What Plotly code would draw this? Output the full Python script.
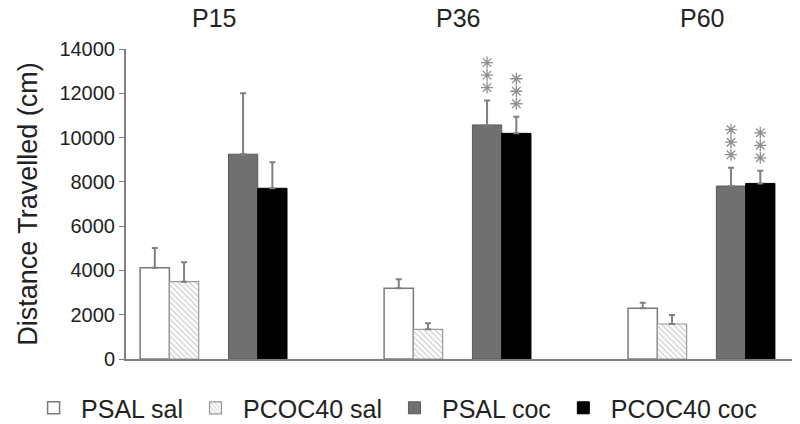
import plotly.graph_objects as go

groups = ["P15", "P36", "P60"]
series = ["PSAL sal", "PCOC40 sal", "PSAL coc", "PCOC40 coc"]
means = {
    "PSAL sal":   [4120, 3190, 2290],
    "PCOC40 sal": [3490, 1340, 1580],
    "PSAL coc":   [9250, 10570, 7810],
    "PCOC40 coc": [7710, 10190, 7930],
}
errors = {
    "PSAL sal":   [890, 410, 250],
    "PCOC40 sal": [880, 270, 410],
    "PSAL coc":   [2750, 1100, 830],
    "PCOC40 coc": [1170, 750, 570],
}
# number of significance asterisks above each bar
significance = {
    "PSAL coc":   [0, 3, 3],
    "PCOC40 coc": [0, 3, 3],
}
y_ticks = [0, 2000, 4000, 6000, 8000, 10000, 12000, 14000]

FONT = "Liberation Sans, Arial, sans-serif"
W, H = 800, 424
M = dict(l=126, r=8, t=49, b=65, autoexpand=False)
Y_RANGE = [0, 14000]
X_RANGE = [-0.36, 2.37]
BAR_W = 0.12
offsets = {"PSAL sal": -0.302, "PCOC40 sal": -0.182, "PSAL coc": 0.060, "PCOC40 coc": 0.180}
styles = {
    "PSAL sal": dict(color="white", line=dict(color="#7a7a7a", width=1.5)),
    "PCOC40 sal": dict(color="white", line=dict(color="#9a9a9a", width=1.2),
                       pattern=dict(shape="\\", fgcolor="#9a9a9a", bgcolor="white", size=4, solidity=0.3)),
    "PSAL coc": dict(color="#707070", line=dict(color="#5a5a5a", width=1)),
    "PCOC40 coc": dict(color="#000000", line=dict(color="#000000", width=1)),
}
x_idx = list(range(len(groups)))

fig = go.Figure()
for s in series:
    fig.add_trace(go.Bar(
        x=x_idx, y=means[s], name=s,
        width=BAR_W, offset=offsets[s],
        marker=styles[s],
        error_y=dict(type="data", symmetric=False, array=errors[s],
                     arrayminus=[0] * len(groups),
                     color="#808080", thickness=2, width=3),
    ))

# asterisks: spacing in pixels converted to data units
y_per_px = (Y_RANGE[1] - Y_RANGE[0]) / (H - M["t"] - M["b"])
STAR_START_PX, STAR_STEP_PX = 13, 12.5
for s, counts in significance.items():
    sx, sy = [], []
    for i, n in enumerate(counts):
        for k in range(n):
            sx.append(i + offsets[s] + BAR_W / 2)
            sy.append(means[s][i] + errors[s][i] + (STAR_START_PX + k * STAR_STEP_PX) * y_per_px)
    fig.add_trace(go.Scatter(
        x=sx, y=sy, mode="markers", showlegend=False, hoverinfo="skip",
        marker=dict(symbol="asterisk-open", size=10, color="#8f8f8f",
                    line=dict(color="#8f8f8f", width=1.3)),
    ))

annotations = []
for i, g in enumerate(groups):
    annotations.append(dict(
        x=i, y=1, xref="x", yref="paper", text=g, showarrow=False,
        yanchor="bottom", yshift=15,
        font=dict(family=FONT, size=25, color="#222"),
    ))

fig.update_layout(
    width=W, height=H,
    margin=M,
    plot_bgcolor="white", paper_bgcolor="white",
    barmode="overlay",
    showlegend=True,
    legend=dict(orientation="h", x=-0.15, xanchor="left", y=-0.084, yanchor="top",
                itemwidth=45,
                font=dict(family=FONT, size=25, color="#222"), traceorder="normal"),
    annotations=annotations,
    font=dict(family=FONT, color="#222"),
)
fig.update_xaxes(range=X_RANGE, showticklabels=False, showline=True,
                 linecolor="#808080", linewidth=2, ticks="", showgrid=False, zeroline=False)
fig.update_yaxes(range=Y_RANGE, tickvals=y_ticks, ticktext=[str(v) for v in y_ticks],
                 automargin=False,
                 showline=True, linecolor="#808080", linewidth=2, ticks="outside",
                 ticklen=5, tickcolor="#808080", showgrid=False, zeroline=False,
                 tickfont=dict(family=FONT, size=20, color="#222"),
                 title=dict(text="Distance Travelled (cm)", standoff=14,
                            font=dict(family=FONT, size=27, color="#222")))

fig.write_html("out.html", config={"displayModeBar": False},
               post_script="document.body.style.margin='0';document.body.style.overflow='hidden';")
